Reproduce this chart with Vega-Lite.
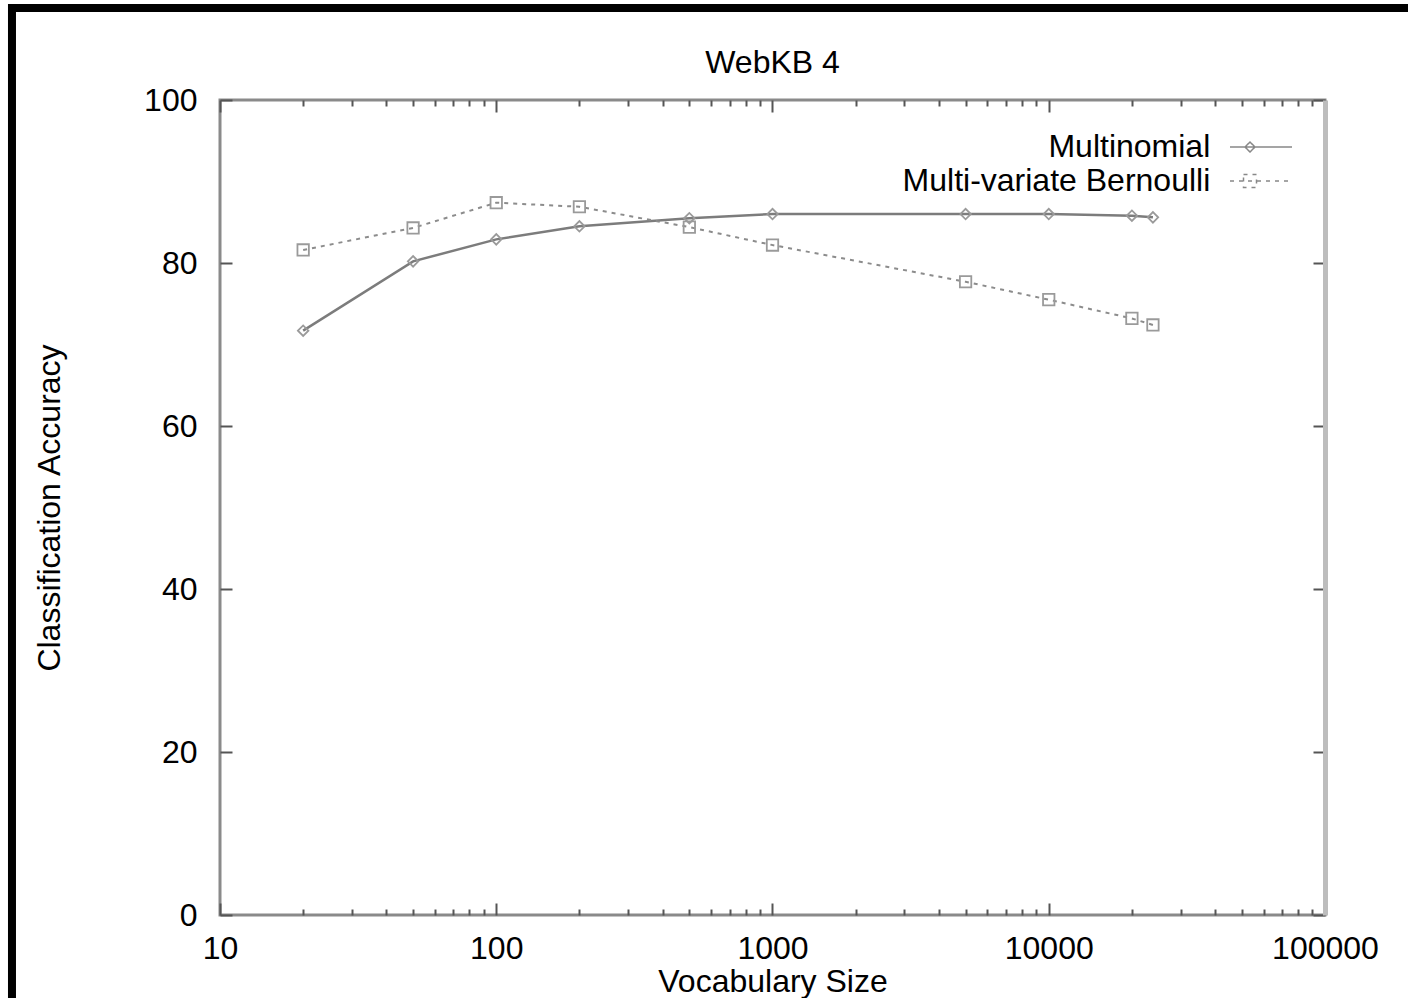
{
  "$schema": "https://vega.github.io/schema/vega-lite/v6.json",
  "autosize": "none",
  "width": 1105,
  "height": 815,
  "padding": {"left": 220, "top": 100, "right": 83, "bottom": 83},
  "background": "white",
  "title": {"text": "WebKB 4", "frame": "group", "font": "Liberation Sans", "fontSize": 32, "fontWeight": "normal", "color": "#000", "offset": -76},
  "config": {
    "view": {"stroke": "#8a8a8a", "strokeWidth": 3},
    "axis": {"grid": false, "labelFont": "Liberation Sans", "labelFontSize": 32, "labelColor": "#000", "titleFont": "Liberation Sans", "titleFontSize": 32, "titleFontWeight": "normal", "titleColor": "#000", "tickColor": "#555", "tickWidth": 2, "domain": false, "labelOverlap": false, "labelFlush": false}
  },
  "data": {"values": [
    {"size": 20, "acc": 71.7, "series": "Multinomial"},
    {"size": 50, "acc": 80.2, "series": "Multinomial"},
    {"size": 100, "acc": 82.9, "series": "Multinomial"},
    {"size": 200, "acc": 84.5, "series": "Multinomial"},
    {"size": 500, "acc": 85.5, "series": "Multinomial"},
    {"size": 1000, "acc": 86.0, "series": "Multinomial"},
    {"size": 5000, "acc": 86.0, "series": "Multinomial"},
    {"size": 10000, "acc": 86.0, "series": "Multinomial"},
    {"size": 20000, "acc": 85.8, "series": "Multinomial"},
    {"size": 23830, "acc": 85.6, "series": "Multinomial"},
    {"size": 20, "acc": 81.6, "series": "Multi-variate Bernoulli"},
    {"size": 50, "acc": 84.3, "series": "Multi-variate Bernoulli"},
    {"size": 100, "acc": 87.4, "series": "Multi-variate Bernoulli"},
    {"size": 200, "acc": 86.9, "series": "Multi-variate Bernoulli"},
    {"size": 500, "acc": 84.4, "series": "Multi-variate Bernoulli"},
    {"size": 1000, "acc": 82.2, "series": "Multi-variate Bernoulli"},
    {"size": 5000, "acc": 77.7, "series": "Multi-variate Bernoulli"},
    {"size": 10000, "acc": 75.5, "series": "Multi-variate Bernoulli"},
    {"size": 20000, "acc": 73.2, "series": "Multi-variate Bernoulli"},
    {"size": 23830, "acc": 72.4, "series": "Multi-variate Bernoulli"}
  ]},
  "resolve": {"axis": {"x": "independent", "y": "independent"}},
  "layer": [
    {
      "transform": [{"filter": "datum.series === 'Multinomial'"}],
      "mark": {"type": "line", "color": "#7c7c7c", "strokeWidth": 2.5,
               "point": {"shape": "diamond", "filled": false, "color": "#9a9a9a", "strokeWidth": 1.8, "size": 110}},
      "encoding": {
        "x": {"field": "size", "type": "quantitative", "scale": {"type": "log", "domain": [10, 100000], "nice": false},
              "axis": {"orient": "bottom", "values": [10, 100, 1000, 10000, 100000], "format": "d", "ticks": false, "labelPadding": 18, "title": "Vocabulary Size", "titlePadding": 2}},
        "y": {"field": "acc", "type": "quantitative", "scale": {"domain": [0, 100], "nice": false, "zero": false},
              "axis": {"orient": "left", "values": [0, 20, 40, 60, 80, 100], "ticks": false, "labelPadding": 23, "title": "Classification Accuracy", "titlePadding": 77}}
      }
    },
    {
      "transform": [{"filter": "datum.series === 'Multi-variate Bernoulli'"}],
      "mark": {"type": "line", "color": "#8c8c8c", "strokeWidth": 2, "strokeDash": [4, 5],
               "point": {"shape": "square", "filled": false, "color": "#9a9a9a", "strokeWidth": 1.8, "size": 130}},
      "encoding": {
        "x": {"field": "size", "type": "quantitative", "scale": {"type": "log", "domain": [10, 100000], "nice": false},
              "axis": {"orient": "bottom", "values": [10, 100, 1000, 10000, 100000], "labels": false, "title": null, "offset": -12, "tickSize": 12}},
        "y": {"field": "acc", "type": "quantitative", "scale": {"domain": [0, 100], "nice": false, "zero": false},
              "axis": {"orient": "left", "values": [0, 20, 40, 60, 80, 100], "labels": false, "title": null, "offset": -12, "tickSize": 12}}
      }
    },
    {
      "data": {"values": [{}]},
      "mark": {"type": "rect", "fillOpacity": 0, "stroke": "#000", "strokeWidth": 8},
      "encoding": {
        "x": {"datum": 1.766, "type": "quantitative", "scale": {"type": "log", "domain": [10, 100000], "nice": false},
              "axis": {"orient": "bottom", "values": [20, 30, 40, 50, 60, 70, 80, 90, 200, 300, 400, 500, 600, 700, 800, 900, 2000, 3000, 4000, 5000, 6000, 7000, 8000, 9000, 20000, 30000, 40000, 50000, 60000, 70000, 80000, 90000], "labels": false, "title": null, "offset": -6, "tickSize": 6}},
        "x2": {"datum": 220800},
        "y": {"datum": 111.3, "type": "quantitative", "scale": {"domain": [0, 100], "nice": false, "zero": false},
              "axis": {"orient": "right", "values": [0, 20, 40, 60, 80, 100], "labels": false, "title": null, "offset": -12, "tickSize": 12}},
        "y2": {"datum": -11.7}
      }
    },
    {
      "mark": {"type": "point", "opacity": 0, "filled": false, "color": "#888", "strokeWidth": 1.5},
      "encoding": {
        "x": {"field": "size", "type": "quantitative", "scale": {"type": "log", "domain": [10, 100000], "nice": false},
              "axis": {"orient": "top", "values": [10, 100, 1000, 10000, 100000], "labels": false, "title": null, "offset": -12, "tickSize": 12}},
        "y": {"field": "acc", "type": "quantitative", "scale": {"domain": [0, 100], "nice": false, "zero": false},
              "axis": {"orient": "right", "ticks": false, "labels": false, "title": null, "domain": true, "domainColor": "#bdbdbd", "domainWidth": 5}},
        "shape": {"field": "series", "type": "nominal",
              "scale": {"domain": ["Multinomial", "Multi-variate Bernoulli"], "range": ["M-31,0H31M-11,-5L-6,0L-11,5L-16,0Z", "M-31,0H31M-17.5,-6.5H-4.5V6.5H-17.5Z"]},
              "legend": {"orient": "none", "legendX": 1025, "legendY": 31, "title": null, "padding": 0, "rowPadding": 2,
                         "labelFont": "Liberation Sans", "labelFontSize": 32, "labelColor": "#000", "labelAlign": "right", "labelOffset": -66.75, "labelLimit": 0,
                         "symbolSize": 4, "symbolStrokeWidth": 1.5, "symbolStrokeColor": "#888", "symbolFillColor": "transparent", "symbolOpacity": 1}},
        "strokeDash": {"field": "series", "type": "nominal",
              "scale": {"domain": ["Multinomial", "Multi-variate Bernoulli"], "range": [[1, 0], [4, 5]]},
              "legend": {"orient": "none", "legendX": 1025, "legendY": 31, "title": null, "padding": 0, "rowPadding": 2,
                         "labelFont": "Liberation Sans", "labelFontSize": 32, "labelColor": "#000", "labelAlign": "right", "labelOffset": -66.75, "labelLimit": 0,
                         "symbolSize": 4, "symbolStrokeWidth": 1.5, "symbolStrokeColor": "#888", "symbolFillColor": "transparent", "symbolOpacity": 1}}
      }
    },
    {
      "mark": {"type": "point", "opacity": 0},
      "encoding": {
        "x": {"field": "size", "type": "quantitative", "scale": {"type": "log", "domain": [10, 100000], "nice": false},
              "axis": {"orient": "top", "values": [20, 30, 40, 50, 60, 70, 80, 90, 200, 300, 400, 500, 600, 700, 800, 900, 2000, 3000, 4000, 5000, 6000, 7000, 8000, 9000, 20000, 30000, 40000, 50000, 60000, 70000, 80000, 90000], "labels": false, "title": null, "offset": -6, "tickSize": 6}},
        "y": {"field": "acc", "type": "quantitative", "scale": {"domain": [0, 100], "nice": false, "zero": false}, "axis": null}
      }
    }
  ]
}
